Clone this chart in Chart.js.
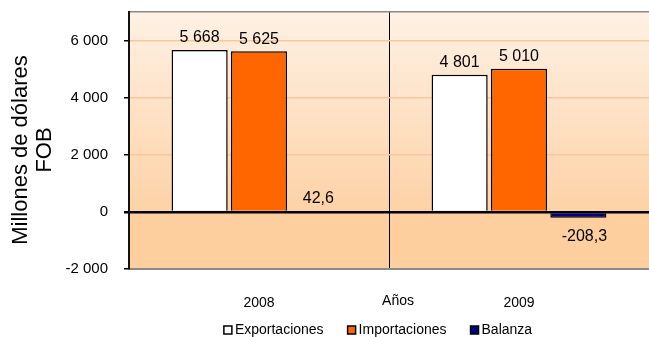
<!DOCTYPE html>
<html>
<head>
<meta charset="utf-8">
<script src="https://cdn.jsdelivr.net/npm/chart.js@4"></script>
<style>
  body { margin: 0; background: #fff; }
  canvas { display: block; }
</style>
</head>
<body>
<canvas id="chart" width="649" height="337"></canvas>
<script>
const categories = ['2008', '2009'];
const exportaciones = [5668, 4801];
const importaciones = [5625, 5010];
const balanza = [42.6, -208.3];
const seriesNames = ['Exportaciones', 'Importaciones', 'Balanza'];
const yTickValues = [-2000, 0, 2000, 4000, 6000, 7000];

const FONT = "'Liberation Sans', Arial, sans-serif";

// 5668 -> "5 668", 42.6 -> "42,6"
function fmt(v) {
  const neg = v < 0;
  const parts = Math.abs(v).toString().split('.');
  const intPart = parts[0].replace(/\B(?=(\d{3})+(?!\d))/g, ' ');
  return (neg ? '-' : '') + intPart + (parts[1] ? ',' + parts[1] : '');
}

const decor = {
  id: 'decor',
  beforeDraw(chart) {
    const { ctx, chartArea: a, scales } = chart;
    const y0 = scales.y.getPixelForValue(0);
    const grad = ctx.createLinearGradient(0, a.top, 0, y0);
    grad.addColorStop(0, '#fef1e4');
    grad.addColorStop(1, '#fdd2a6');
    ctx.save();
    ctx.fillStyle = grad;
    ctx.fillRect(a.left, a.top, a.right - a.left, y0 - a.top);
    ctx.fillStyle = '#fdcf9f';
    ctx.fillRect(a.left, y0, a.right - a.left, a.bottom - y0);
    ctx.restore();
  },
  afterDatasetsDraw(chart) {
    const { ctx } = chart;
    ctx.save();
    ctx.font = '16px ' + FONT;
    ctx.fillStyle = '#000';
    ctx.textAlign = 'center';
    chart.data.datasets.forEach((ds, i) => {
      chart.getDatasetMeta(i).data.forEach((bar, j) => {
        const v = ds.data[j];
        if (v >= 0) {
          ctx.textBaseline = 'bottom';
          ctx.fillText(fmt(v), bar.x, bar.y - 4);
        } else {
          ctx.textBaseline = 'top';
          ctx.fillText(fmt(v), bar.x + 6, bar.y + 11);
        }
      });
    });
    ctx.restore();
  },
  afterDraw(chart) {
    const { ctx } = chart;
    ctx.save();
    // y axis title, two lines
    ctx.translate(33, 150);
    ctx.rotate(-Math.PI / 2);
    ctx.font = '22px ' + FONT;
    ctx.fillStyle = '#000';
    ctx.textAlign = 'center';
    ctx.textBaseline = 'middle';
    ctx.fillText('Millones de dólares', 0, -12);
    ctx.fillText('FOB', 0, 12);
    ctx.restore();

    ctx.save();
    ctx.font = '14px ' + FONT;
    ctx.fillStyle = '#000';
    ctx.textAlign = 'center';
    ctx.textBaseline = 'middle';
    ctx.fillText('Años', 398, 301);

    // legend
    const box = 8, gap = 3, itemGap = 24;
    const widths = chart.data.datasets.map(ds => ctx.measureText(ds.label).width);
    const total = widths.reduce((s, w) => s + box + gap + w, 0) + itemGap * (widths.length - 1);
    let x = 378 - total / 2;
    const ly = 330;
    ctx.textAlign = 'left';
    chart.data.datasets.forEach((ds, i) => {
      ctx.fillStyle = ds.backgroundColor;
      ctx.fillRect(x, ly - box / 2, box, box);
      ctx.strokeStyle = '#000';
      ctx.lineWidth = 1.5;
      ctx.strokeRect(x, ly - box / 2, box, box);
      ctx.fillStyle = '#000';
      ctx.fillText(ds.label, x + box + gap, ly);
      x += box + gap + widths[i] + itemGap;
    });
    ctx.restore();
  }
};

new Chart(document.getElementById('chart'), {
  type: 'bar',
  data: {
    labels: categories,
    datasets: [
      { label: seriesNames[0], data: exportaciones, backgroundColor: '#ffffff' },
      { label: seriesNames[1], data: importaciones, backgroundColor: '#ff6600' },
      { label: seriesNames[2], data: balanza, backgroundColor: '#000080' }
    ].map(ds => Object.assign(ds, {
      borderColor: '#000',
      borderWidth: 1.5,
      categoryPercentage: 0.685,
      barPercentage: 0.945
    }))
  },
  options: {
    responsive: false,
    animation: false,
    layout: { padding: { top: 12, right: 0, bottom: 0, left: 0 } },
    plugins: { legend: { display: false }, tooltip: { enabled: false } },
    scales: {
      x: {
        afterFit(scale) {
          scale.height = 68;
          scale.paddingLeft = 0;
          scale.paddingRight = 0;
        },
        grid: { offset: true, color: '#000', lineWidth: 1, drawTicks: false },
        border: { color: '#8a8a8a', width: 2 },
        ticks: { padding: 26, color: '#000', font: { family: FONT, size: 14 } }
      },
      y: {
        min: -2000,
        max: 7000,
        afterBuildTicks(scale) {
          scale.ticks = yTickValues.map(v => ({ value: v }));
        },
        afterFit(scale) {
          scale.width = 129;
          scale.paddingTop = 0;
          scale.paddingBottom = 0;
        },
        grid: {
          color: c => c.tick.value === 0 ? '#000' : (c.tick.value === 7000 || c.tick.value === -2000) ? '#8a8a8a' : '#f9c89a',
          lineWidth: c => c.tick.value === 0 ? 2.5 : 1.5,
          tickColor: c => c.tick.value === 7000 ? 'rgba(0,0,0,0)' : '#000',
          tickLength: 5
        },
        border: { color: '#111', width: 2 },
        ticks: {
          padding: 16,
          color: '#000',
          font: { family: FONT, size: 15 },
          callback: v => v === 7000 ? '' : fmt(v)
        }
      }
    }
  },
  plugins: [decor]
});
</script>
</body>
</html>
